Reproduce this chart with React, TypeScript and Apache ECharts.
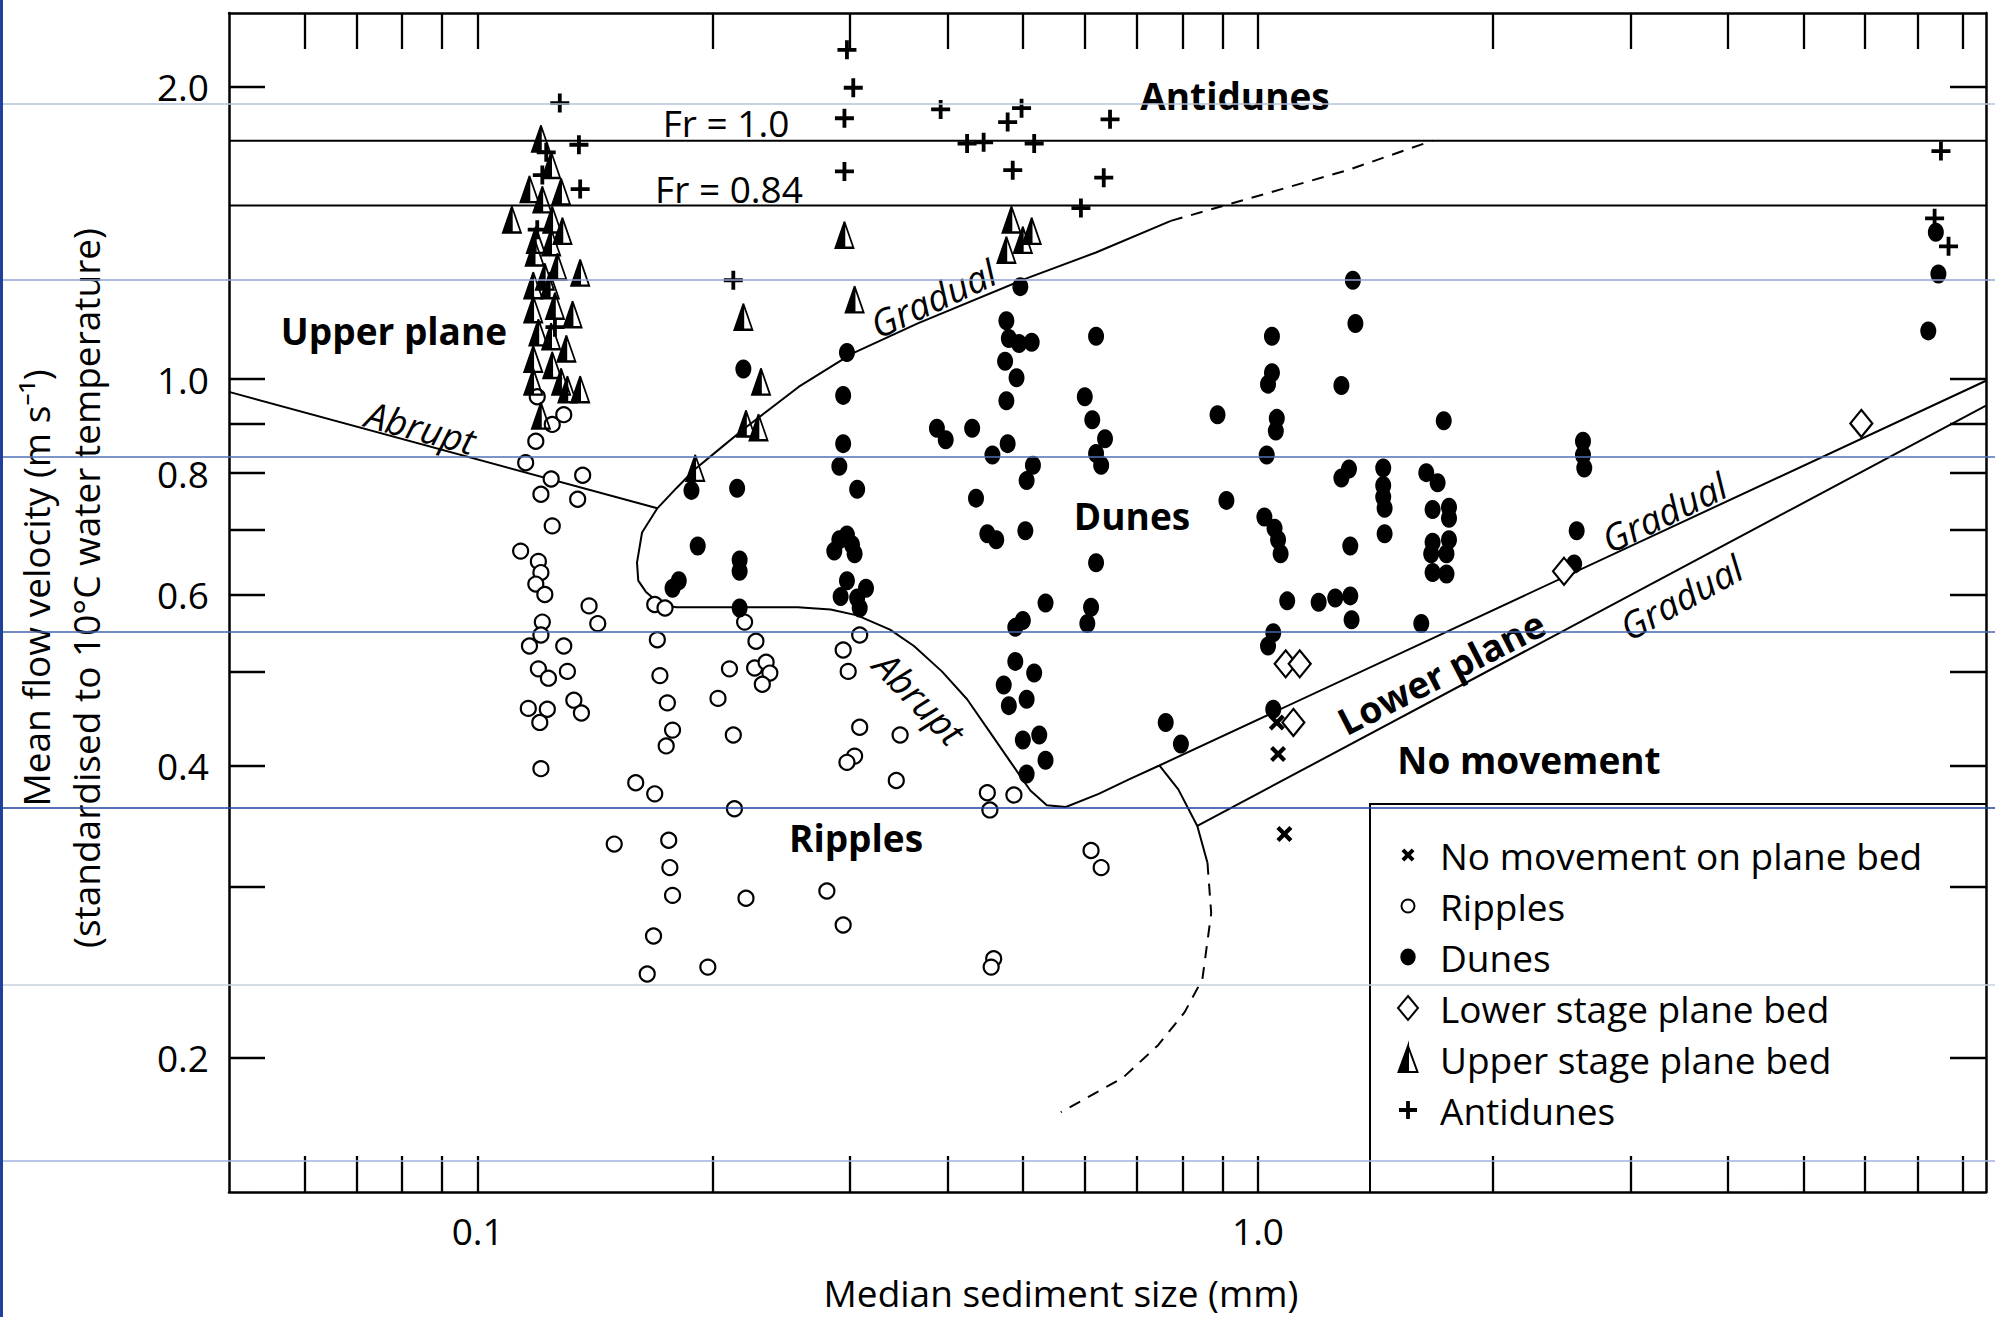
import React, { useEffect, useRef } from 'react';
import * as echarts from 'echarts';

const FONT = '"Open Sans", "Noto Sans", "DejaVu Sans", sans-serif';

// Axis ranges (median sediment size in mm, mean flow velocity in m/s)
const X_MIN = 0.048;
const X_MAX = 8.57;
const Y_MIN = 0.1455;
const Y_MAX = 2.382;

const xTickValues = [0.06, 0.07, 0.08, 0.09, 0.1, 0.2, 0.3, 0.4, 0.5, 0.6, 0.7, 0.8, 0.9, 1, 2, 3, 4, 5, 6, 7, 8];
const xLabelValues = [0.1, 1];
const yTickValues = [0.2, 0.3, 0.4, 0.5, 0.6, 0.7, 0.8, 0.9, 1, 2];
const yLabelValues = [0.2, 0.4, 0.6, 0.8, 1, 2];

// Observations [median size (mm), velocity (m/s)]
const noMovement = [[1.057, 0.443], [1.061, 0.411], [1.081, 0.34]];

const ripples = [
  [0.1192, 0.959], [0.1246, 0.898], [0.1289, 0.919], [0.1187, 0.863], [0.1152, 0.82], [0.1242, 0.789],
  [0.1363, 0.796], [0.1205, 0.761], [0.1343, 0.752], [0.1246, 0.706], [0.1135, 0.665], [0.1196, 0.649],
  [0.1205, 0.632], [0.1187, 0.615], [0.1219, 0.6], [0.1389, 0.584], [0.1425, 0.56], [0.121, 0.562],
  [0.1205, 0.545], [0.1165, 0.531], [0.1289, 0.531], [0.1196, 0.503], [0.1232, 0.492], [0.1303, 0.5],
  [0.1161, 0.458], [0.1228, 0.457], [0.1201, 0.443], [0.1328, 0.467], [0.1358, 0.453], [0.1205, 0.397],
  [0.1686, 0.586], [0.1738, 0.581], [0.1699, 0.539], [0.1712, 0.495], [0.175, 0.464], [0.1777, 0.435],
  [0.1744, 0.419], [0.1594, 0.384], [0.1686, 0.374], [0.1496, 0.332], [0.1757, 0.335], [0.1763, 0.314],
  [0.1777, 0.294], [0.168, 0.267], [0.1649, 0.244], [0.1972, 0.248],
  [0.2198, 0.562], [0.2273, 0.537], [0.2102, 0.503], [0.2264, 0.504], [0.2342, 0.511], [0.2368, 0.498],
  [0.2316, 0.485], [0.2032, 0.469], [0.2126, 0.43], [0.2133, 0.361], [0.2207, 0.292],
  [0.3087, 0.545], [0.294, 0.526], [0.2984, 0.5], [0.3087, 0.438], [0.3478, 0.43], [0.3041, 0.409],
  [0.2973, 0.403], [0.3439, 0.386], [0.2802, 0.297], [0.294, 0.274],
  [0.4499, 0.375], [0.4533, 0.36], [0.4866, 0.373], [0.611, 0.327], [0.6295, 0.314], [0.4584, 0.253], [0.455, 0.248]
];

const dunes = [
  [0.1879, 0.768], [0.215, 0.772], [0.1914, 0.673], [0.2166, 0.651], [0.2166, 0.634], [0.181, 0.62],
  [0.1777, 0.609], [0.2166, 0.581], [0.219, 1.024],
  [0.2973, 1.065], [0.294, 0.962], [0.294, 0.858], [0.2907, 0.813], [0.3064, 0.77], [0.2973, 0.691],
  [0.2907, 0.683], [0.3018, 0.675], [0.2864, 0.665], [0.3041, 0.661], [0.2973, 0.62], [0.3145, 0.609],
  [0.2918, 0.597], [0.3064, 0.595], [0.3087, 0.581],
  [0.3877, 0.89], [0.3979, 0.866], [0.4302, 0.89], [0.4351, 0.754], [0.4499, 0.693], [0.4619, 0.683],
  [0.4959, 1.245], [0.4759, 1.148], [0.4794, 1.101], [0.494, 1.088], [0.5128, 1.091], [0.4741, 1.043],
  [0.4904, 1.003], [0.4759, 0.95], [0.4777, 0.858], [0.4567, 0.835], [0.5147, 0.815], [0.5052, 0.786],
  [0.5033, 0.698], [0.5342, 0.588], [0.4996, 0.564], [0.4886, 0.555], [0.4886, 0.512], [0.5166, 0.498],
  [0.4722, 0.484], [0.5052, 0.468], [0.4794, 0.461], [0.4996, 0.425], [0.5244, 0.43], [0.5342, 0.405],
  [0.5052, 0.392],
  [0.6201, 1.107], [0.5998, 0.959], [0.6132, 0.908], [0.6367, 0.868], [0.6201, 0.838], [0.6295, 0.815],
  [0.6201, 0.647], [0.611, 0.582], [0.6043, 0.56],
  [0.7616, 0.443], [0.7965, 0.421], [0.8874, 0.919], [0.911, 0.75],
  [1.042, 1.107], [1.042, 1.015], [1.03, 0.988], [1.057, 0.911], [1.054, 0.884], [1.026, 0.835],
  [1.019, 0.721], [1.05, 0.702], [1.061, 0.683], [1.069, 0.661], [1.09, 0.591], [1.046, 0.548],
  [1.03, 0.531], [1.046, 0.457],
  [1.323, 1.264], [1.333, 1.141], [1.279, 0.985], [1.308, 0.808], [1.279, 0.791], [1.313, 0.673],
  [1.196, 0.589], [1.256, 0.595], [1.313, 0.598], [1.318, 0.565],
  [1.447, 0.81], [1.447, 0.777], [1.447, 0.756], [1.453, 0.736], [1.453, 0.693],
  [1.73, 0.906], [1.643, 0.801], [1.699, 0.782], [1.757, 0.738], [1.674, 0.734], [1.757, 0.719],
  [1.757, 0.683], [1.674, 0.679], [1.667, 0.661], [1.744, 0.661], [1.674, 0.632], [1.744, 0.63], [1.619, 0.56],
  [2.609, 0.863], [2.609, 0.835], [2.619, 0.81], [2.561, 0.698], [2.542, 0.645],
  [7.391, 1.416], [7.447, 1.283], [7.228, 1.121]
];

const lowerStagePlaneBed = [[1.085, 0.509], [1.131, 0.509], [1.11, 0.443], [2.467, 0.634], [5.932, 0.9]];

const upperStagePlaneBed = [
  [0.1205, 1.769], [0.1242, 1.661], [0.1165, 1.569], [0.1279, 1.56], [0.121, 1.531], [0.1106, 1.46],
  [0.1246, 1.46], [0.1284, 1.421], [0.1187, 1.391], [0.1242, 1.383], [0.1183, 1.35], [0.1265, 1.306],
  [0.1353, 1.287], [0.1178, 1.249], [0.1237, 1.249], [0.1219, 1.275], [0.1178, 1.18], [0.1256, 1.19],
  [0.1323, 1.166], [0.1196, 1.117], [0.1242, 1.107], [0.1299, 1.075], [0.1178, 1.049], [0.1246, 1.034],
  [0.1178, 0.994], [0.1279, 0.994], [0.1353, 0.976], [0.1303, 0.976], [0.1205, 0.917],
  [0.2951, 1.408], [0.3041, 1.208], [0.219, 1.159], [0.2307, 0.994], [0.2207, 0.9], [0.229, 0.892],
  [0.19, 0.81], [0.4831, 1.46], [0.5128, 1.421], [0.4759, 1.359], [0.4996, 1.391]
];

const antidunes = [
  [0.1274, 1.924], [0.1348, 1.743], [0.1353, 1.569], [0.1224, 1.712], [0.121, 1.622], [0.1192, 1.425],
  [0.1256, 1.131], [0.2973, 2.183], [0.3029, 1.995], [0.2951, 1.856], [0.2951, 1.636], [0.392, 1.895],
  [0.4238, 1.748], [0.445, 1.753], [0.4777, 1.839], [0.4977, 1.901], [0.5166, 1.748], [0.4849, 1.641],
  [0.6462, 1.851], [0.6343, 1.612], [0.593, 1.5], [0.2126, 1.264], [7.503, 1.717], [7.364, 1.464], [7.673, 1.37]
];

// Regime boundaries [mm, m/s]
const froude100 = [[X_MIN, 1.76], [X_MAX, 1.76]];
const froude084 = [[X_MIN, 1.509], [X_MAX, 1.509]];
const abruptUpperPlane = [[X_MIN, 0.97], [0.1699, 0.736]];
const mainBoundary = [
  [0.7732, 1.455], [0.6199, 1.35], [0.5031, 1.268], [0.3664, 1.141], [0.3018, 1.062], [0.258, 0.982],
  [0.2207, 0.892], [0.2062, 0.853], [0.19, 0.808], [0.1797, 0.772], [0.1699, 0.736], [0.1624, 0.695],
  [0.16, 0.647], [0.1606, 0.62], [0.1642, 0.604], [0.1693, 0.591], [0.1757, 0.584], [0.1797, 0.582],
  [0.2571, 0.582], [0.2833, 0.579], [0.3064, 0.571], [0.3376, 0.552], [0.3623, 0.531], [0.3934, 0.5],
  [0.4238, 0.468], [0.4533, 0.433], [0.4831, 0.402], [0.5108, 0.377], [0.5362, 0.364], [0.5671, 0.3625],
  [0.6249, 0.374], [0.6834, 0.387], [0.7474, 0.4], [X_MAX, 0.996]
];
const gradualDashed = [[0.7732, 1.455], [1.303, 1.641], [1.674, 1.76]];
const lowerPlaneLower = [[0.836, 0.3466], [X_MAX, 0.939]];
const connectorSolid = [[0.7474, 0.4], [0.7904, 0.378], [0.836, 0.3466], [0.8614, 0.3177]];
const connectorDashed = [
  [0.8614, 0.3177], [0.871, 0.2818], [0.8486, 0.241], [0.8054, 0.2229], [0.7447, 0.2061],
  [0.6709, 0.1907], [0.5588, 0.1758]
];

// marker shapes (filled outlines so that weights are predictable)
const SYM_CROSS = 'path://M0,3L3,0L8,5L13,0L16,3L11,8L16,13L13,16L8,11L3,16L0,13L5,8Z';
const SYM_PLUS = 'path://M7.6,0L11.4,0L11.4,7.6L19,7.6L19,11.4L11.4,11.4L11.4,19L7.6,19L7.6,11.4L0,11.4L0,7.6L7.6,7.6Z';
const SYM_TRI = 'path://M10,0L0,28L10,28ZM10,0L20,28L10,28L20,28Z';

const ICON_CROSS = 'path://M0,0M28,28M7.5,10.3L10.3,7.5L14,11.2L17.7,7.5L20.5,10.3L16.8,14L20.5,17.7L17.7,20.5L14,16.8L10.3,20.5L7.5,17.7L11.2,14Z';
const ICON_OPEN = 'path://M0,0M28,28M7.5,14A6.5,6.5 0 1,1 20.5,14A6.5,6.5 0 1,1 7.5,14Z';
const ICON_DOT = 'path://M0,0M28,28M6.3,14A7.7,8.4 0 1,1 21.7,14A7.7,8.4 0 1,1 6.3,14Z';
const ICON_DIAMOND = 'path://M0,0M28,28M14,2L24,14L14,26L4,14Z';
const ICON_TRI = 'path://M0,0M28,28M14,1L4.5,27L14,27ZM14,1L23.5,27L14,27L23.5,27Z';
const ICON_PLUS = 'path://M0,0M28,28M12.1,5L15.9,5L15.9,12.1L23,12.1L23,15.9L15.9,15.9L15.9,23L12.1,23L12.1,15.9L5,15.9L5,12.1L12.1,12.1Z';

function lineSeries(name: string, data: number[][], dashed = false) {
  return {
    name,
    type: 'line',
    data,
    symbol: 'none',
    showSymbol: false,
    silent: true,
    z: 1,
    lineStyle: { color: '#000', width: 2, type: dashed ? [12, 9] : 'solid' },
    emphasis: { disabled: true },
  };
}

function textEl(text: string, x: number, y: number, opts: any = {}) {
  return {
    type: 'text',
    x,
    y,
    rotation: opts.rotation || 0,
    silent: true,
    z: 50,
    style: {
      text,
      fill: '#000',
      fontSize: 37,
      fontFamily: FONT,
      fontWeight: opts.bold ? 'bold' : 'normal',
      fontStyle: opts.italic ? 'italic' : 'normal',
      align: 'center',
      verticalAlign: 'middle',
    },
  };
}

const deg = Math.PI / 180;

function makeAxis(kind: 'x' | 'y', position: string, withLabels: boolean) {
  const isX = kind === 'x';
  return {
    type: 'log',
    logBase: 10,
    min: isX ? X_MIN : Y_MIN,
    max: isX ? X_MAX : Y_MAX,
    position,
    axisLine: { show: true, onZero: false, lineStyle: { color: '#000', width: 2.5 } },
    axisTick: {
      show: true,
      inside: true,
      length: 36,
      customValues: isX ? xTickValues : yTickValues,
      lineStyle: { color: '#000', width: 2.3 },
    },
    axisLabel: {
      show: withLabels,
      customValues: isX ? xLabelValues : yLabelValues,
      formatter: (v: number) => Number(v).toFixed(1),
      fontSize: 37,
      fontFamily: FONT,
      color: '#000',
      margin: 20,
    },
    splitLine: { show: false },
    minorTick: { show: false },
    minorSplitLine: { show: false },
  };
}

export default function App() {
  const ref = useRef<HTMLDivElement>(null);

  useEffect(() => {
    document.body.style.margin = '0';
    document.body.style.overflow = 'hidden';
    if (!ref.current) return;
    const chart = echarts.init(ref.current, null, { renderer: 'svg' });

    const blueRules = [
      { y: 104, c: '#b6c3dc' },
      { y: 280, c: '#8ea5d2' },
      { y: 457, c: '#4f70b8' },
      { y: 632, c: '#4465b0' },
      { y: 808, c: '#20409b' },
      { y: 985, c: '#c9d1de' },
      { y: 1161, c: '#a3b0df' },
    ];

    const option: any = {
      animation: false,
      backgroundColor: '#fff',
      textStyle: { fontFamily: FONT },
      grid: { left: 229, right: 9, top: 13, bottom: 125, containLabel: false, outerBoundsMode: 'none' },
      xAxis: [makeAxis('x', 'bottom', true), makeAxis('x', 'top', false)],
      yAxis: [makeAxis('y', 'left', true), makeAxis('y', 'right', false)],
      legend: {
        orient: 'vertical',
        left: 1393,
        top: 835,
        padding: 0,
        itemWidth: 54,
        itemHeight: 28,
        itemGap: 11,
        selectedMode: false,
        textStyle: { fontSize: 37, fontFamily: FONT, color: '#000', lineHeight: 40 },
        data: [
          { name: 'No movement on plane bed', icon: ICON_CROSS, itemStyle: { color: '#000', borderWidth: 0 } },
          { name: 'Ripples', icon: ICON_OPEN, itemStyle: { color: '#fff', borderColor: '#000', borderWidth: 2 } },
          { name: 'Dunes', icon: ICON_DOT, itemStyle: { color: '#000', borderWidth: 0 } },
          { name: 'Lower stage plane bed', icon: ICON_DIAMOND, itemStyle: { color: '#fff', borderColor: '#000', borderWidth: 2 } },
          { name: 'Upper stage plane bed', icon: ICON_TRI, itemStyle: { color: '#000', borderColor: '#000', borderWidth: 2 } },
          { name: 'Antidunes', icon: ICON_PLUS, itemStyle: { color: '#000', borderWidth: 0 } },
        ],
      },
      series: [
        lineSeries('Fr = 1.0', froude100),
        lineSeries('Fr = 0.84', froude084),
        lineSeries('Abrupt (upper plane)', abruptUpperPlane),
        lineSeries('Boundary', mainBoundary),
        lineSeries('Gradual (extrapolated)', gradualDashed, true),
        lineSeries('Lower plane limit', lowerPlaneLower),
        lineSeries('Connector', connectorSolid),
        lineSeries('Connector (extrapolated)', connectorDashed, true),
        {
          name: 'Ripples', type: 'scatter', data: ripples, symbol: 'circle', symbolSize: 15, z: 3,
          itemStyle: { color: '#fff', borderColor: '#000', borderWidth: 2.2, opacity: 1 },
        },
        {
          name: 'Dunes', type: 'scatter', data: dunes, symbol: 'circle', symbolSize: [16, 19], z: 4,
          itemStyle: { color: '#000', borderWidth: 0, opacity: 1 },
        },
        {
          name: 'Lower stage plane bed', type: 'scatter', data: lowerStagePlaneBed, symbol: 'diamond', symbolSize: [22, 27], z: 4,
          itemStyle: { color: '#fff', borderColor: '#000', borderWidth: 2.2, opacity: 1 },
        },
        {
          name: 'Upper stage plane bed', type: 'scatter', data: upperStagePlaneBed, symbol: SYM_TRI, symbolSize: [18, 26], z: 4,
          itemStyle: { color: '#000', borderColor: '#000', borderWidth: 2, opacity: 1 },
        },
        {
          name: 'Antidunes', type: 'scatter', data: antidunes, symbol: SYM_PLUS, symbolSize: 19, z: 5,
          itemStyle: { color: '#000', borderWidth: 0, opacity: 1 },
        },
        {
          name: 'No movement on plane bed', type: 'scatter', data: noMovement, symbol: SYM_CROSS, symbolSize: 16, z: 5,
          itemStyle: { color: '#000', borderWidth: 0, opacity: 1 },
        },
      ],
      graphic: [
        // legend frame
        {
          type: 'polyline', silent: true, z: 20,
          shape: { points: [[1370, 1192], [1370, 804], [1986, 804]] },
          style: { stroke: '#000', lineWidth: 2, fill: null },
        },
        // axis titles
        textEl('Median sediment size (mm)', 1061, 1292),
        textEl('Mean flow velocity (m s\u207B\u00B9)', 35, 588, { rotation: 90 * deg }),
        textEl('(standardised to 10\u00B0C water temperature)', 85, 588, { rotation: 90 * deg }),
        // Froude labels
        textEl('Fr = 1.0', 726, 122),
        textEl('Fr = 0.84', 729, 188),
        // regime labels
        textEl('Antidunes', 1235, 95, { bold: true }),
        textEl('Upper plane', 394, 330, { bold: true }),
        textEl('Dunes', 1132, 515, { bold: true }),
        textEl('Ripples', 856, 837, { bold: true }),
        textEl('No movement', 1529, 759, { bold: true }),
        textEl('Lower plane', 1441, 672, { bold: true, rotation: 27 * deg }),
        // transition labels
        textEl('Abrupt', 421, 427, { italic: true, rotation: -15 * deg }),
        textEl('Abrupt', 920, 698, { italic: true, rotation: -46 * deg }),
        textEl('Gradual', 933, 298, { italic: true, rotation: 25 * deg }),
        textEl('Gradual', 1664, 512, { italic: true, rotation: 26 * deg }),
        textEl('Gradual', 1681, 597, { italic: true, rotation: 29 * deg }),
        // scan ruling lines
        ...blueRules.map((r) => ({
          type: 'line', silent: true, z: 100,
          shape: { x1: 0, y1: r.y, x2: 1995, y2: r.y },
          style: { stroke: r.c, lineWidth: 1.5 },
        })),
        {
          type: 'line', silent: true, z: 100,
          shape: { x1: 1.5, y1: 0, x2: 1.5, y2: 1317 },
          style: { stroke: '#20409b', lineWidth: 3 },
        },
      ],
    };

    chart.setOption(option);
    return () => chart.dispose();
  }, []);

  return <div ref={ref} style={{ width: 1995, height: 1317, background: '#fff' }} />;
}
